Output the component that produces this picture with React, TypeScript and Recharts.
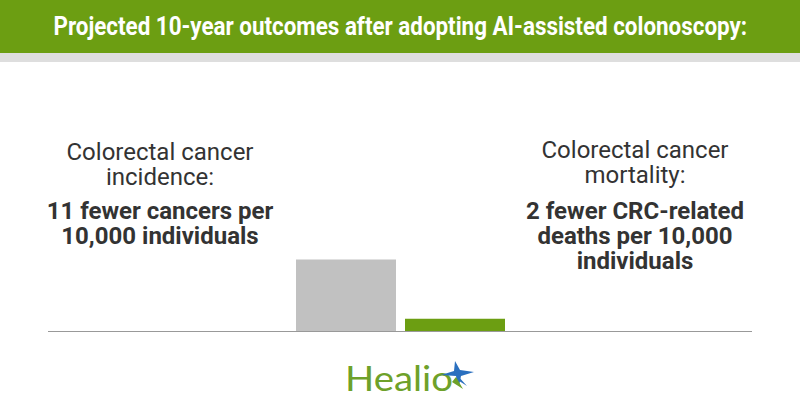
import React, { useLayoutEffect, useRef, useState } from 'react';
import { BarChart, Bar, XAxis, YAxis, ReferenceLine } from 'recharts';

// values per 10,000 individuals
const categories = ['10-year outcomes'];
const incidenceFewer = [11];
const mortalityFewer = [2];

const chartData = categories.map((name, i) => ({
  name,
  incidence: incidenceFewer[i],
  mortality: mortalityFewer[i],
}));

const GREEN = '#6c9e12';
const GRAY_BAR = '#c1c1c1';
const TEXT = '#333333';

const regular: React.CSSProperties = {
  position: 'absolute',
  width: 320,
  textAlign: 'center',
  fontFamily: 'Roboto, sans-serif',
  fontSize: 24,
  lineHeight: '25px',
  color: TEXT,
};

const bold: React.CSSProperties = {
  ...regular,
  fontSize: 24,
  lineHeight: '25px',
  fontWeight: 700,
};

// condensed header title: squeeze the bold Roboto line to the reference width
const Title = ({ text, width }: { text: string; width: number }) => {
  const ref = useRef<HTMLSpanElement>(null);
  const [scale, setScale] = useState(1);
  useLayoutEffect(() => {
    if (ref.current) setScale(width / ref.current.offsetWidth);
  }, [text, width]);
  return (
    <div style={{ position: 'absolute', left: 0, top: 12, width: 800, textAlign: 'center', whiteSpace: 'nowrap' }}>
      <span
        ref={ref}
        style={{
          display: 'inline-block',
          fontFamily: 'Roboto, sans-serif',
          fontWeight: 700,
          fontSize: 25,
          lineHeight: '30px',
          color: '#fff',
          transform: `scaleX(${scale})`,
          transformOrigin: 'center',
        }}
      >
        {text}
      </span>
    </div>
  );
};

export default function App() {
  return (
    <div style={{ position: 'absolute', left: 0, top: 0, width: 800, height: 420, background: '#fff', overflow: 'hidden' }}>
      <div style={{ position: 'absolute', left: 0, top: 0, width: 800, height: 53, background: GREEN }} />
      <div style={{ position: 'absolute', left: 0, top: 53, width: 800, height: 9, background: '#dedede' }} />
      <Title text="Projected 10-year outcomes after adopting AI-assisted colonoscopy:" width={694} />

      <div style={{ position: 'absolute', left: 48, top: 200 }}>
        <BarChart width={704} height={132} data={chartData} margin={{ top: 0, right: 0, bottom: 0, left: 0 }} barSize={100} barGap={9}>
          <XAxis dataKey="name" hide />
          <YAxis hide domain={[0, 20]} />
          <Bar dataKey="incidence" fill={GRAY_BAR} isAnimationActive={false} />
          <Bar dataKey="mortality" fill={GREEN} isAnimationActive={false} />
          <ReferenceLine y={0} stroke="#999" strokeWidth={2} />
        </BarChart>
      </div>

      <div style={{ ...regular, left: 0, top: 140 }}>Colorectal cancer<br />incidence:</div>
      <div style={{ ...bold, left: 0, top: 199 }}>11 fewer cancers per<br />10,000 individuals</div>

      <div style={{ ...regular, left: 475, top: 138 }}>Colorectal cancer<br />mortality:</div>
      <div style={{ ...bold, left: 475, top: 199 }}>2 fewer CRC-related<br />deaths per 10,000<br />individuals</div>

      <svg width={160} height={50} style={{ position: 'absolute', left: 330, top: 355 }}>
        <text
          x={15}
          y={36}
          fill="#6ea12a"
          fontFamily="Lato, sans-serif"
          fontSize={34}
          textLength={108}
          lengthAdjust="spacingAndGlyphs"
        >
          Healio
        </text>
        <polygon
          points="125,6 130,15 144,17 131,21 129,31 126,21 111,20 124,16"
          fill="#2a6fbf"
        />
        <polygon points="127,20 137,31 126,24" fill="#2a6fbf" />
        <polygon points="126,22 133,34 122,27" fill="#6ea12a" />
      </svg>
    </div>
  );
}
